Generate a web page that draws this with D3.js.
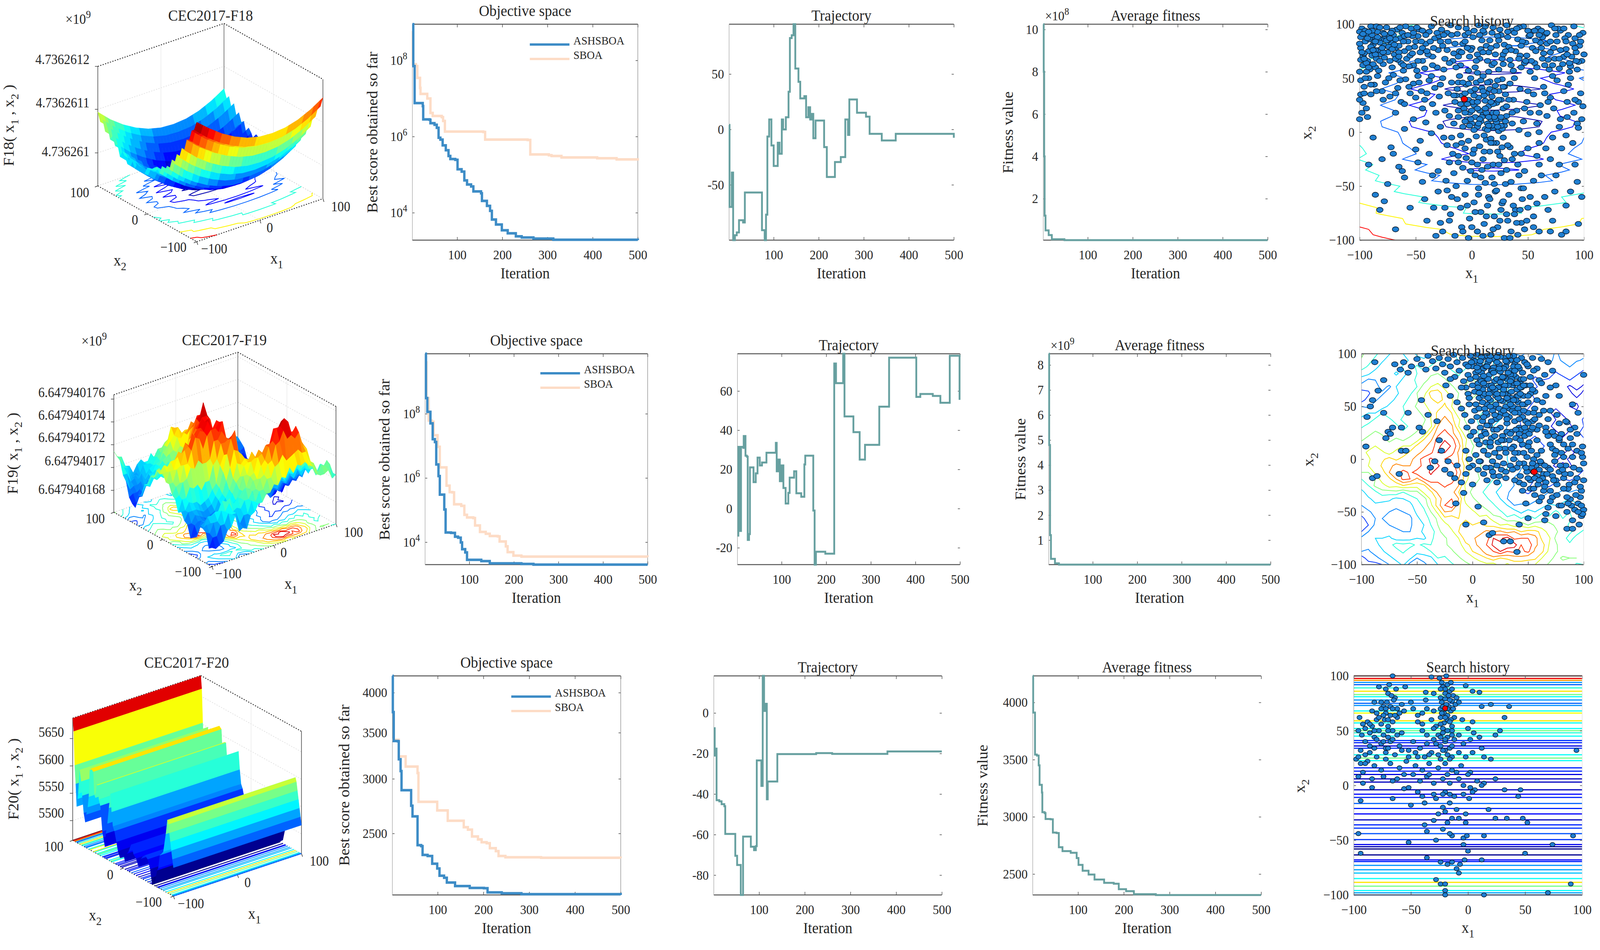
<!DOCTYPE html>
<html><head><meta charset="utf-8">
<script src="https://cdn.jsdelivr.net/npm/d3@7/dist/d3.min.js"></script>
<style>html,body{margin:0;background:#fff;overflow:hidden}svg{display:block;width:100vw;height:100vh}text{font-family:"Liberation Serif","Times New Roman",serif;fill:#262626}</style>
</head><body><script>
// ---------- convergence curves: iteration, value ----------
const best18AIter=[1,3,6,19,24,25,39,41,50,55,59,63,68,75,81,85,96,101,110,116,122,131,136,153,155,166,173,177,186,199,212,230,243,269,313,500];
const best18A=[8.95,7.85,6.88,6.88,6.8,6.45,6.44,6.35,6.31,6.23,5.97,5.92,5.77,5.64,5.49,5.41,5.39,5.14,5.08,4.85,4.74,4.69,4.56,4.51,4.31,4.18,4.05,3.82,3.69,3.54,3.46,3.38,3.35,3.32,3.29,3.28];
const best18BIter=[1,2,9,12,18,19,31,34,39,41,46,66,69,73,158,162,256,262,303,309,331,410,453,500];
const best18B=[8.77,7.9,7.85,7.54,7.28,7.12,7.12,7,7,6.62,6.54,6.51,6.41,6.13,6.12,5.92,5.91,5.53,5.51,5.49,5.45,5.43,5.4,5.37];
const traj18Iter=[1,2,7,10,14,18,23,32,36,71,74,80,83,86,90,95,100,106,109,113,118,121,127,133,136,140,144,148,155,159,168,172,177,181,184,188,193,210,212,218,232,236,246,249,256,259,265,268,282,285,300,305,313,340,371,496,500];
const traj18=[4,-70,-39,-100,-95.6,-93,-82,-84,-57,-57,-91,-100,-77,-6.5,9,-14.5,-33,-33,-12,-22,9,0,11,34,82.5,85,95,55,43,28,30,11,20,9,14,-8,8,8,-16,-43,-43,-29.5,-29.5,-25,-25,9,-5,27,27,15,15,11.5,-4,-10,-4,-4,-7.5];
const avg18Iter=[1,2,3,4,6,13,20,48,500];
const avg18=[10.25,8,4,1.2,0.5,0.28,0.08,0.04,0.04];

const best19AIter=[1,3,6,13,18,23,26,31,34,43,44,47,59,68,75,81,84,91,95,127,146,217,244,500];
const best19A=[9.87,8.49,8.06,7.7,7.21,7.12,6.42,6.06,5.48,5.48,5.02,4.3,4.29,4.17,4.14,3.99,3.78,3.68,3.45,3.41,3.34,3.32,3.3,3.3];
const best19BIter=[1,4,9,16,20,29,34,43,49,56,62,66,82,89,95,109,113,121,124,137,146,164,168,182,186,199,217,500];
const best19B=[9.6,8.49,7.79,7.75,7.33,6.97,6.33,6.33,5.76,5.56,5.55,5.18,5.13,4.85,4.77,4.75,4.52,4.52,4.32,4.26,4.19,4.18,4.02,3.87,3.69,3.58,3.55,3.54];
const traj19Iter=[1,3,6,9,14,15,19,22,24,27,29,35,37,42,46,51,56,65,66,84,87,89,93,96,100,104,109,115,118,124,128,133,144,151,153,168,171,174,177,195,198,217,218,222,235,238,241,259,261,270,275,284,287,318,319,340,341,399,402,411,437,439,453,456,475,477,498,499];
const traj19=[-13.8,31.5,-11.4,31.5,31,37,27,26.5,-16,-13,21,21,13.5,18,26,22,23.5,23.5,28.5,28.5,33.5,19,25,14,22,10.5,2.6,8,15.8,15.8,19,7.8,6,22.5,27,27,-1,-28.6,-22,-22,-23,-23,74,64,64,79,47,47,39,39,25,25,32.5,32.5,52,52,77,77,57,58.5,58.5,57.5,57.5,54,54,78,78,55.5];
const avg19Iter=[1,2,4,6,15,24,500];
const avg19=[8.45,4.8,1.2,0.25,0.07,0.02,0.02];

const best20AIter=[1,2,4,13,15,19,21,39,42,45,52,56,64,67,78,88,99,104,114,120,138,170,201,209,240,283,500];
const best20A=[4230,3748,3404,3400,3202,3079,2888,2888,2742,2647,2647,2404,2396,2327,2319,2260,2224,2171,2156,2122,2097,2084,2082,2053,2047,2041,2036];
const best20BIter=[1,13,15,29,30,54,56,58,97,99,120,122,153,157,166,175,188,196,207,214,227,233,248,326,500];
const best20B=[3417,3417,3233,3233,3125,3125,3059,2778,2778,2700,2700,2608,2608,2553,2532,2475,2451,2428,2420,2380,2357,2319,2309,2305,2302];
const traj20Iter=[1,3,4,7,13,18,24,26,46,48,52,58,60,64,65,78,82,89,93,95,102,105,108,111,113,117,119,137,140,220,225,255,260,376,381,500];
const traj20=[-7.5,-21,-17.6,-43,-43.6,-45,-46,-59.7,-59.7,-70.5,-75,-75,-89.8,-89.8,-61,-61,-66,-67.7,-65.7,-23.4,-23.4,-36,18.3,1,4.5,-42.6,-33.8,-33.8,-20.3,-20.3,-19.8,-19.8,-20.2,-20.2,-19,-19];
const avg20Iter=[1,2,6,10,14,16,21,22,27,29,40,45,53,58,66,84,97,101,110,123,136,157,178,189,205,222,270,500];
const avg20=[4232,3911,3544,3536,3450,3280,3212,3041,3032,2981,2978,2862,2858,2734,2700,2686,2640,2580,2529,2495,2452,2423,2415,2367,2350,2324,2316,2316];

// ---------- function landscapes ----------
// F18: rows x2 = 100..-100 step 5, columns x1 = -100..100 step 20
const f18Surface=[[189,159,135,116,102,94,92,95,104,119,139],[168,138,114,95,81,73,71,74,83,98,118],[176,146,122,103,89,81,79,82,91,106,126],[150,120,96,77,63,55,53,56,65,80,100],[165,135,111,92,78,70,68,71,80,95,115],[137,107,83,64,50,42,40,43,52,67,87],[149,119,95,76,62,54,52,55,64,79,99],[128,98,74,55,41,33,31,34,43,58,78],[134,104,80,61,47,39,37,40,49,64,84],[107,77,53,34,20,12,10,13,22,37,57],[124,94,70,51,37,29,27,30,39,54,74],[115,85,61,42,28,20,18,21,30,45,65],[99,69,45,26,12,4,2,5,14,29,49],[118,88,64,45,31,23,21,24,33,48,68],[114,84,60,41,27,19,17,20,29,44,64],[98,68,44,25,11,3,1,4,13,28,48],[113,83,59,40,26,18,16,19,28,43,63],[111,81,57,38,24,16,14,17,26,41,61],[98,68,44,25,11,3,1,4,13,28,48],[100,70,46,27,13,5,3,6,15,30,50],[117,87,63,44,30,22,20,23,32,47,67],[120,90,66,47,33,25,23,26,35,50,70],[122,92,68,49,35,27,25,28,37,52,72],[129,99,75,56,42,34,32,35,44,59,79],[134,104,80,61,47,39,37,40,49,64,84],[122,92,68,49,35,27,25,28,37,52,72],[143,113,89,70,56,48,46,49,58,73,93],[133,103,79,60,46,38,36,39,48,63,83],[151,121,97,78,64,56,54,57,66,81,101],[146,116,92,73,59,51,49,52,61,76,96],[174,144,120,101,87,79,77,80,89,104,124],[168,138,114,95,81,73,71,74,83,98,118],[195,165,141,122,108,100,98,101,110,125,145],[191,161,137,118,104,96,94,97,106,121,141],[218,188,164,145,131,123,121,124,133,148,168],[217,187,163,144,130,122,120,123,132,147,167],[247,217,193,174,160,152,150,153,162,177,197],[250,220,196,177,163,155,153,156,165,180,200],[277,247,223,204,190,182,180,183,192,207,227],[283,253,229,210,196,188,186,189,198,213,233],[306,279,255,236,222,214,212,215,224,239,259]];
const f18Levels=[15,40,70,125,195,265];
const f18ZTicks=[84.5,196,306], f18ZLabels=["4.736261","4.7362611","4.7362612"];
// F19: rows x2 = 100..-100 step 6.25, columns x1 = -100..100 step 6.25 (percent of z range)
const f19Surface=[
[52,46,45,36,35,28,34,37,33,29,35,37,36,37,31,38,33,32,26,33,27,28,26,27,25,26,27,32,24,30,29,30,28],
[49,47,38,36,28,30,28,36,36,36,34,42,40,40,33,40,34,35,28,34,26,27,22,24,22,24,23,30,22,28,26,27,25],
[47,40,38,28,30,28,36,36,44,36,44,44,46,38,40,40,42,34,36,34,32,24,26,18,24,18,24,23,24,20,26,20,22],
[36,36,28,30,28,36,30,38,42,48,48,50,44,46,40,48,42,42,36,42,32,30,24,24,18,20,18,24,16,22,18,20,14],
[32,24,26,26,34,28,36,38,44,46,54,52,52,44,46,46,52,42,44,42,40,30,30,22,22,16,18,16,18,12,18,12,14],
[20,22,22,30,24,34,34,40,42,54,58,64,54,52,44,52,50,50,42,48,38,36,28,28,20,20,14,16,10,14,8,14,8],
[16,16,26,24,32,32,38,40,50,54,70,68,64,52,50,48,56,48,48,42,44,34,32,24,22,14,16,10,12,10,12,6,12],
[14,22,24,32,30,36,36,46,48,60,64,70,64,60,48,50,48,48,42,44,36,36,26,26,18,18,10,14,12,12,10,12,10],
[26,24,32,30,36,34,42,44,52,54,64,62,68,58,54,44,50,42,44,36,38,28,28,20,20,12,14,12,12,10,10,8,16],
[28,34,34,42,36,38,40,48,46,54,58,68,70,66,52,50,44,44,38,38,32,30,22,22,14,14,12,12,6,12,10,12,14],
[38,36,44,42,44,38,44,42,50,48,58,68,78,68,60,48,46,40,40,34,34,24,24,16,16,10,12,10,10,6,12,10,20],
[40,46,44,50,42,44,38,44,44,52,56,74,78,76,58,54,42,42,34,34,28,26,18,18,12,18,10,12,6,8,8,16,18],
[48,46,52,48,48,42,44,44,52,52,68,78,86,76,68,52,48,40,40,32,32,22,20,12,14,14,16,10,12,6,12,14,24],
[48,54,52,54,46,52,48,54,54,66,72,86,88,86,72,60,46,46,36,36,28,28,18,18,16,22,14,16,10,12,10,16,16],
[56,54,58,52,56,52,58,58,68,70,80,84,100,88,78,58,52,42,42,34,36,26,24,16,24,22,20,14,16,10,12,10,16],
[54,60,58,60,54,62,60,68,70,78,80,90,90,86,72,62,48,48,40,40,34,34,24,24,18,22,16,16,10,12,6,12,10],
[56,56,64,64,70,64,70,70,80,84,92,84,82,76,74,58,54,46,46,38,40,34,30,22,24,16,18,10,12,6,12,10,16],
[50,58,58,68,70,78,74,74,76,86,90,92,82,88,74,64,52,52,44,44,36,36,28,28,20,22,12,14,8,14,8,16,14],
[50,50,60,62,74,76,86,80,86,84,92,84,84,88,80,60,56,48,48,40,38,30,32,24,22,16,16,10,16,10,16,14,20],
[42,48,50,64,64,74,84,82,72,82,86,86,82,90,74,62,50,50,42,42,32,32,24,26,18,18,12,16,14,18,16,20,18],
[40,42,52,54,62,60,66,62,62,64,78,78,84,78,74,56,52,44,44,36,36,26,26,20,20,14,20,16,22,20,24,22,24],
[30,40,40,48,46,48,42,48,48,60,64,76,76,78,66,58,46,46,38,38,28,28,20,20,16,22,20,26,24,28,26,28,24],
[32,32,38,36,36,32,34,36,42,46,60,68,80,82,74,54,52,44,44,36,34,26,24,18,24,22,28,26,32,28,34,28,32],
[26,32,32,32,30,28,30,32,38,44,56,70,82,88,68,60,52,52,44,44,34,34,26,28,26,32,30,36,34,38,34,36,30],
[24,24,30,28,26,24,26,28,36,40,50,60,74,72,68,58,60,54,54,46,44,36,38,32,38,34,40,38,44,38,42,36,36],
[14,24,26,26,24,22,24,24,32,38,44,52,64,62,66,64,64,60,62,54,52,44,48,42,46,42,48,44,48,42,44,38,38],
[16,18,28,26,26,24,22,24,32,34,42,50,54,62,64,72,66,70,64,64,58,60,54,56,50,56,52,54,48,48,40,40,36],
[18,26,28,32,30,28,26,26,30,36,38,46,56,56,66,68,74,70,76,74,76,70,74,66,70,68,64,54,52,44,44,38,44],
[28,26,34,34,36,30,30,30,34,32,40,46,48,56,58,70,72,78,78,90,88,94,80,82,82,78,64,60,48,46,38,46,44],
[28,30,30,38,38,46,44,46,40,44,42,50,48,54,54,64,68,78,82,92,92,98,94,82,88,76,70,58,52,42,44,44,50],
[26,24,32,32,40,38,44,36,38,36,42,42,48,48,56,58,66,68,80,82,90,82,84,80,84,72,68,56,52,44,48,48,48],
[14,22,22,30,30,38,36,36,26,32,32,42,40,48,48,56,56,64,66,72,66,68,70,72,68,68,58,56,46,52,50,50,42],
[16,14,16,18,26,28,36,22,24,22,32,34,40,40,46,46,52,50,56,54,62,56,62,60,62,58,56,48,46,46,48,40,42]];
const f19Levels=[10,18,26,34,42,50,58,66,74,82,90];
const f19ZTicks=[18.7,38.1,57.5,76.9,96.3], f19ZLabels=["6.647940168","6.64794017","6.647940172","6.647940174","6.647940176"];
// F20: profile along x2, nearly constant along x1
const f20X2=[100,98,96,94,92,90,89,86,83,81,78,75,73,70,68,66,63,59,57,55,52,50,48,45,41,39,36,34,31,28,25,22.6,20,17,13,10,6,3,-1,-4,-8,-11,-16,-21,-26,-31,-36,-39,-44,-49,-54,-56,-58,-63,-68,-70,-73,-77,-80,-85,-88,-90,-92,-94,-96,-98,-100];
const f20Z=[5687,5664,5603,5570,5530,5545,5555,5600,5580,5555,5525,5510,5525,5540,5560,5610,5614,5610,5570,5565,5590,5590,5565,5555,5510,5500,5485,5510,5530,5560,5587,5555,5530,5523,5505,5490,5480,5482,5490,5478,5495,5500,5515,5500,5495,5482,5500,5505,5510,5505,5490,5475,5465,5470,5495,5500,5525,5530,5535,5570,5597,5590,5575,5560,5545,5530,5516];
const f20LineX2=[100,97.7,96,94,92,89,86,83,81,78,75,73,68,66,59,57,52,50,48,45,41,39,36,34,28,25,22.6,16,13,10,6,3,-4,-8,-11,-16.5,-21,-26,-31.5,-36,-39,-44,-49.5,-54,-56,-58,-63.5,-68,-69.5,-73,-77,-80,-85,-88.5,-92,-96,-98,-100];
const f20LineZ=[5687,5660,5625,5525,5515,5555,5610,5575,5550,5525,5515,5525,5550,5600,5610,5550,5550,5575,5555,5550,5505,5500,5485,5505,5550,5575,5550,5500,5500,5485,5480,5480,5480,5495,5500,5515,5500,5495,5480,5500,5505,5510,5505,5490,5475,5465,5470,5495,5500,5525,5530,5535,5550,5610,5575,5550,5530,5516];
const f20ZTicks=[5500,5550,5600,5650], f20ZLabels=["5500","5550","5600","5650"];
// ---------- search history: x1,x2 pairs ----------
const history18=[-98,96,-94,91,-90,98,-87,88,-95,84,-99,78,-92,75,-88,81,-84,93,-80,86,-76,97,-83,76,-78,80,-97,70,-93,66,-89,71,-85,68,-81,72,-75,74,-72,83,-70,90,-67,95,-64,87,-68,78,-73,66,-79,63,-86,60,-91,58,-97,62,-99,88,-96,73,-91,86,-86,76,-82,83,-77,89,-74,79,-69,72,-65,80,-62,92,-60,75,-57,84,-54,96,-58,68,-63,64,-55,71,-51,79,-48,89,-46,74,-52,62,-44,66,-41,82,-38,93,-42,59,-94,56,-88,63,-83,57,-78,69,-71,60,-66,67,-61,57,-56,61,-49,57,-99,67,-100,93,-95,94,-89,90,-85,98,-79,92,-75,85,-71,77,-83,87,-87,84,-90,79,-94,64,-98,74,-36,98,-33,87,-30,76,-27,95,-24,68,-21,84,-19,99,-16,73,-13,91,-10,62,-8,82,-5,96,-2,70,1,88,3,60,6,99,8,77,11,92,14,66,16,85,19,97,21,72,24,58,26,90,29,81,31,99,34,67,36,94,39,75,41,86,44,60,46,98,49,71,51,89,54,78,56,64,59,96,61,83,64,73,66,91,69,58,71,99,74,68,76,84,79,94,81,63,84,77,86,90,89,70,91,98,94,58,96,80,99,92,98,66,-31,60,-25,58,-17,66,-11,75,-3,57,7,68,13,80,18,62,28,63,33,79,43,71,48,83,53,93,58,60,63,88,68,67,73,78,78,59,83,87,88,61,93,74,97,84,-35,70,-29,89,-22,92,-14,60,-6,90,0,78,5,55,10,94,15,56,23,89,27,68,32,93,37,57,42,97,47,64,52,56,57,85,62,94,67,82,72,62,77,96,82,70,87,56,92,87,95,65,100,72,-99,48,-96,42,-92,50,-90,35,-87,44,-84,52,-80,38,-77,46,-73,33,-70,53,-66,41,-63,28,-59,49,-55,36,-52,45,-99,35,-97,27,-94,22,-98,18,-48,52,-45,38,-42,30,-38,48,-35,26,-33,41,-29,33,-26,50,-24,20,-21,36,-18,46,-15,28,-13,40,-11,52,-9,34,-7,22,-5,44,-3,30,-1,50,1,38,2,25,4,46,6,32,7,20,9,41,10,52,12,29,13,36,15,24,16,47,18,33,19,18,21,43,22,27,24,38,25,12,27,49,28,22,30,35,31,15,-4,12,-2,18,0,8,3,14,5,5,8,10,10,16,12,3,14,8,17,12,19,4,22,9,24,1,26,14,29,6,-8,5,-12,14,-16,8,-20,15,34,45,37,30,40,20,43,40,46,10,49,28,52,18,55,35,58,8,61,25,64,42,67,15,70,32,73,22,76,48,79,12,82,38,85,28,88,50,91,18,94,8,97,36,99,24,36,8,42,2,50,-2,60,0,72,-5,84,-3,95,4,-25,-5,-28,5,-36,-1,-41,9,-46,-8,-52,12,-60,3,-68,18,-72,-14,-18,-5,-14,-12,-10,-3,-6,-15,-3,-8,1,-20,4,-4,7,-13,10,-25,13,-7,16,-18,19,-30,22,-10,25,-22,28,-5,31,-35,34,-14,-20,-28,-16,-38,-12,-22,-8,-33,-4,-45,0,-28,3,-40,6,-52,9,-35,12,-47,15,-60,18,-42,21,-55,24,-30,27,-66,30,-48,33,-58,36,-25,39,-72,42,-40,45,-62,-18,-60,-14,-50,-10,-70,-6,-58,-2,-80,2,-65,5,-92,8,-74,11,-85,14,-68,17,-95,20,-78,23,-88,26,-72,29,-98,32,-82,35,-92,38,-76,41,-95,44,-84,47,-90,50,-70,-26,-92,-20,-82,-15,-96,-9,-88,-3,-98,-23,-45,-30,-55,-35,-40,-42,-62,-48,-28,-55,-70,-62,-36,-68,-90,-75,-48,-82,-72,-60,-42,-65,-32,70,-25,75,-40,80,-15,88,-55,92,-30,98,-60,55,-45,60,-30,65,-60,72,-82,80,-95,95,-85,55,-78,60,-10,44,-20,50,-15,58,-22,
-97,91,-93,87,-89,94,-86,72,-82,97,-79,74,-74,90,-71,94,-68,86,-65,74,-61,84,-59,98,-53,89,-50,84,-47,95,-44,78,-41,90,-39,72,-37,84,-34,78,-31,92,-28,84,-25,90,-22,76,-18,90,-15,82,-12,97,-9,74,-6,84,-3,92,-1,76,2,94,5,72,9,85,12,98,15,74,18,92,22,80,25,95,28,72,32,88,35,76,38,92,42,68,45,84,50,94,53,66,57,75,60,90,63,68,67,92,70,74,75,90,78,68,82,96,85,72,90,82,93,66,-3,45,-1,38,1,28,3,40,5,22,8,48,11,34,13,18,16,40,19,26,21,12,23,48,26,30,29,42,31,24,-12,46,-14,34,-10,26,-6,18,-6,36,0,20,9,14,14,2,17,-6,20,14,27,3,33,30,36,18,
-92,93,-88,76,-84,88,-80,78,-76,85,-72,92,-68,68,-64,97,-60,89,-56,78,-52,92,-48,66,-44,94,-40,75,-100,82,-96,68,-92,60,-86,84,-82,66,-78,91,-73,87,-69,81,-65,70,-61,62,-57,90,-53,73,-49,97,-45,84,-35,62,-26,80,-20,64,-12,70,-4,78,4,66,7,90,10,74,17,78,20,64,24,85,30,75,35,62,40,96,44,80,48,66,52,90,56,94,62,78,65,62,70,84,74,96,79,76,84,84,87,64,92,78,96,90,-100,56,-95,50,-90,44,-85,38,-79,30,-74,50,-68,36,-64,48,-60,26,-56,42,-50,32,-47,46,-44,22,-40,36,-36,52,-32,18,-28,44,-100,30,-96,36,-93,14,-100,12,72,52,86,44,95,28,65,36,56,50,50,38,47,22,38,50,60,18,68,28,78,5,85,14,92,30,98,12,-16,34,-12,20,-8,46,-4,26,-1,12,2,34,5,28,7,12,10,38,12,22,14,46,15,14,17,28,18,6,20,38,22,18,24,30,26,6,28,42,30,10,-6,10,-2,6,2,2,6,8,11,-3,15,6,19,-10,23,5,27,-14,-22,-12,-17,-20,-12,-28,-9,-10,-5,-24,-1,-36,2,-16,5,-30,8,-42,11,-18,14,-32,17,-10,20,-48,23,-18,26,-38,29,-26,32,-12,35,-46,38,-20,41,-30,44,-52,47,-36,-24,-70,-19,-76,-13,-62,-8,-92,-4,-68,0,-88,3,-74,6,-58,10,-96,13,-78,16,-62,19,-90,22,-54,25,-82,28,-64,31,-76,34,-98,37,-68,40,-84,43,-72,46,-52,49,-82,52,-60,55,-88,58,-66,-30,-36,-34,-70,-38,-20,-44,-46,-50,-16,-22,-54,-28,-84,-32,-96,-40,-82,62,-40,66,-15,68,-72,74,-55,78,-30,84,-68,90,-10,94,-46,60,-92,70,-92,84,-92,-86,-58,-78,-64,-70,-20,-92,-30,-88,-5,-80,-25];
const history19=[-88,92,-70,90,-65,85,-62,92,-58,82,-55,88,-50,95,-46,90,-42,85,-40,98,-36,93,-33,86,-30,96,-27,90,-25,82,-22,95,-20,88,-17,99,-14,92,-12,84,-9,96,-6,90,-4,80,-2,98,0,88,1,94,3,82,4,99,6,90,7,76,9,96,10,86,11,70,13,98,14,92,15,80,16,66,18,95,19,87,20,74,21,60,23,99,24,90,25,83,26,69,27,55,29,96,30,88,31,76,32,62,33,48,34,94,35,84,36,70,37,98,38,90,39,78,40,66,41,54,42,86,43,74,44,96,45,82,46,60,47,92,48,70,50,88,52,78,54,96,56,64,58,86,60,75,62,95,65,80,68,92,72,84,75,70,78,60,100,80,-8,74,-6,68,-4,62,-2,76,0,70,2,64,3,78,5,72,6,58,8,82,9,66,10,60,12,76,13,52,15,70,16,56,17,84,19,64,20,50,22,76,23,68,25,56,26,44,28,78,29,62,30,50,32,70,33,40,35,58,36,46,37,80,38,36,40,60,41,48,42,30,44,68,45,40,47,52,48,26,50,44,52,62,54,36,56,48,58,28,60,42,63,54,66,30,70,46,74,22,78,34,82,14,-20,60,-14,54,-10,48,-7,42,-3,52,-1,36,2,46,4,40,7,30,9,36,11,26,13,42,15,32,17,20,19,28,21,38,23,16,25,30,27,22,29,10,31,34,33,18,35,26,37,12,39,20,41,6,43,28,45,14,47,22,49,2,51,16,53,8,-5,30,-2,22,1,26,4,18,6,14,8,22,10,8,12,16,14,4,16,12,18,-2,20,6,22,-6,24,2,26,-10,28,-4,30,-12,-6,8,-3,0,0,-6,3,4,5,-10,7,-2,10,-14,13,-20,16,-8,19,-16,22,-22,34,-6,37,0,40,-8,43,-16,46,-4,49,-12,52,-20,55,-12,57,-6,58,-16,60,-10,53,-8,56,-18,59,-24,62,-4,64,-14,66,-22,68,-8,70,-30,72,-16,74,-2,76,-24,78,-12,80,6,82,-18,84,-6,86,-28,88,-14,90,2,92,-22,94,8,96,-10,98,-30,100,-4,100,-20,99,12,97,-36,95,-42,92,-48,88,-38,85,-50,82,-28,78,-44,75,-54,72,-36,68,-46,64,-30,60,-40,56,-34,52,-28,48,-42,45,-30,42,-22,100,-48,98,-54,96,-62,90,-58,98,-44,80,-44,65,-58,85,-66,50,-56,75,-20,88,20,92,30,85,35,78,18,72,10,68,22,95,44,90,52,-46,56,-40,42,-32,36,-30,18,-28,8,-25,-10,-22,-2,-20,-14,-16,-18,-14,-6,-10,-22,-6,-14,-3,-8,0,-24,-90,-18,-86,-16,-66,-14,-64,8,-60,8,-78,20,-76,26,-72,30,-74,24,-96,12,-90,56,-85,65,-80,75,-64,30,-58,44,-48,30,-45,26,-38,-8,-34,-2,-8,-32,-15,-42,5,-45,-6,-62,10,-60,15,-72,18,-70,28,-78,34,-78,40,-88,42,-62,-95,40,-80,44,-92,50,
2,93,5,84,8,97,12,88,15,94,18,84,22,92,25,97,28,86,31,92,34,80,37,88,40,94,5,68,8,74,11,62,14,76,17,70,20,66,23,58,26,76,29,70,32,82,35,64,38,72,41,60,44,76,3,52,6,48,9,54,12,44,15,62,18,46,21,52,24,40,27,62,30,42,33,56,36,50,39,56,42,44,45,52,48,36,50,54,53,28,56,38,-3,58,-10,68,-16,78,-24,70,-20,76,10,40,13,32,17,36,20,22,24,10,28,18,31,26,35,10,39,28,43,18,47,30,51,24,55,0,58,4,61,-2,63,-18,65,-6,67,-14,70,-10,73,-20,75,8,79,-6,83,-14,87,-24,91,-8,94,-18,97,-26,99,2,
-4,88,-1,92,4,87,7,93,10,79,13,88,16,98,19,82,22,97,24,86,27,78,30,93,33,98,35,76,38,84,41,88,43,68,46,76,49,90,52,70,55,84,6,63,10,72,14,58,18,68,22,62,25,73,28,66,31,58,34,74,37,56,40,72,43,62,46,70,50,60,54,66,58,56,62,72,66,60,70,68,11,48,16,50,20,42,24,48,28,46,31,38,34,52,38,44,42,38,46,46,50,34,55,44,60,32,64,46,68,38,72,26,76,42,80,24,84,36,88,28,12,24,16,16,22,28,26,18,30,6,34,24,38,6,42,24,46,6,50,12,54,30,58,18,62,8,66,26,70,14,74,4,78,20,82,2,86,10,90,14,94,24,98,6,6,-2,12,-8,18,-12,24,-16,30,-18,36,-10,42,-4,48,-8,50,-18,54,-4,60,-20,65,-26,70,-40,76,-34,81,-10,85,-36,89,-44,93,-34,99,-52,62,-36,66,-52,55,-28,46,-24,38,-20,90,-66,95,-50,86,-42];
const history20=[-66,100,-32,99,-25,98,-19,100,-69,92,-63,88,-55,90,-37,85,-22,90,-18,92,-15,94,-2,91,-70,84,-64,80,-30,84,-24,80,-20,84,-16,86,-13,82,-10,80,4,86,10,85,-74,72,-71,76,-68,72,-65,78,-62,70,-58,74,-50,76,-37,78,-23,76,-20,79,-17,72,-14,77,-11,74,-8,76,12,72,20,74,36,72,-84,68,-80,66,-76,70,-72,66,-68,64,-60,66,-56,68,-48,70,-44,64,-40,66,-36,70,-30,68,-24,70,-21,66,-18,64,-15,68,-12,62,-95,62,-92,56,-88,58,-84,54,-80,60,-76,56,-73,60,-70,54,-66,58,-62,62,-44,58,-40,56,-32,60,-28,54,-24,62,-21,57,-18,60,-14,54,-5,60,4,58,32,62,-96,50,-93,46,-90,52,-86,48,-82,44,-78,50,-74,46,-70,44,-66,50,-62,46,-58,48,-40,50,-36,46,-30,52,-26,46,-22,48,-18,44,-14,50,-8,46,0,52,5,48,10,44,24,46,28,50,-90,40,-86,36,-80,42,-76,38,-72,34,-68,40,-60,36,-48,40,-42,34,-36,38,-30,42,-24,36,-20,40,-16,34,-12,42,-4,38,2,42,12,34,-94,32,-90,28,-86,30,-80,26,-72,30,-64,28,-58,32,-52,26,-46,30,-38,26,-32,30,-26,28,-20,32,-14,26,-8,30,-2,26,4,30,14,26,20,24,95,32,-98,24,-94,20,-88,22,-82,18,-76,14,-68,20,-60,16,-54,22,-46,18,-40,14,-34,20,-26,16,-20,20,-14,14,-6,18,2,12,-96,8,-92,12,-84,6,-74,8,-62,6,-48,10,-42,4,-36,8,-30,2,-22,6,-16,2,-8,6,0,10,8,4,14,2,24,6,-56,-3,-52,-2,-44,-6,-40,-10,-30,-8,-20,-6,-12,-10,-4,-8,2,-2,6,-4,12,0,32,-4,46,-4,-94,-14,-66,-12,-50,-18,-38,-16,-28,-12,-22,-20,-16,-16,-10,-22,18,-22,44,-10,-26,-26,-20,-24,-8,-30,-2,-26,24,-30,-38,-36,-30,-32,-18,-34,-2,-34,34,-30,48,-30,52,-34,-96,-44,-36,-42,-28,-50,-22,-40,-14,-46,-4,-48,-1,-46,14,-46,92,-46,-52,-52,-4,-54,74,-54,0,-60,-94,-62,-36,-66,-24,-70,-18,-72,-14,-70,-10,-76,-8,-80,50,-62,-28,-86,-24,-90,-20,-90,-20,-96,90,-90,14,-100,-20,-100,70,-98,-3,-68,-7,-72,12,-68,
-78,90,-72,88,-67,82,-82,76,-76,76,-72,70,-66,70,-78,62,-74,64,-70,60,-64,64,-86,56,-82,50,-70,50,-66,42,-74,40,-70,34,-82,34,-23,94,-20,88,-17,82,-24,88,-14,88,-22,72,-19,74,-16,78,-13,70,-23,66,-18,70,-15,60,-20,62,-24,56,-16,58,-22,52,-18,50,-14,46,-24,44,-20,42,-28,38,-22,32,-18,28,-14,36,-34,28,-24,24,-16,24,-96,26,-90,20,-72,24,-52,32,-44,26,-92,2,-84,-2,-66,4,-56,10,-34,10,-18,10,-10,12,-4,0,1,-12,4,-6,-14,-30,-16,-44,-22,-8,-16,-8];
// ---------- helpers ----------
const svg=d3.select("body").append("svg").attr("viewBox","0 0 4400 2433").attr("preserveAspectRatio","none");
const TC="#555";
function jet(v,levels=64){v=Math.max(0,Math.min(1,v));v=Math.min(levels-1,Math.floor(v*levels))/(levels-1);
 const c=t=>Math.round(255*Math.max(0,Math.min(1,1.5-Math.abs(4*v-t))));return `rgb(${c(3)},${c(2)},${c(1)})`;}
function txt(x,y,s,o={}){const t=svg.append("text").attr("x",x).attr("y",y).attr("font-size",o.size||40).attr("text-anchor",o.anchor||"middle");
 if(o.rot)t.attr("transform",`rotate(${o.rot} ${x} ${y})`);if(o.dy)t.attr("dy",o.dy);(Array.isArray(s)?s:[s]).forEach(p=>rich(t,p,o.size||40));return t;}
let pend=0;function rich(t,p,size){if(typeof p==="string"){t.append("tspan").attr("dy",pend).text(p);pend=0;}
 else{const sub=p.sub!==undefined,d=sub?size*.3:-size*.42;t.append("tspan").attr("dy",d+pend).attr("font-size",size*.75).text(sub?p.sub:p.sup);pend=-d;}}
function axes(x,y,o){const b=y.range()[0],t=y.range()[1],l=x.range()[0],r=x.range()[1];
 const sty=g=>{g.select(".domain").remove();g.selectAll("line").attr("stroke",TC).attr("stroke-width",1.6);g.attr("font-size",34);};
 svg.append("g").attr("transform",`translate(0,${b})`).call(d3.axisBottom(x).tickValues(o.xt).tickFormat(o.xf||(d=>d)).tickSizeInner(-8).tickSizeOuter(0).tickPadding(25)).call(sty);
 svg.append("g").attr("transform",`translate(0,${t})`).call(d3.axisTop(x).tickValues(o.xt).tickFormat("").tickSizeInner(-8).tickSizeOuter(0)).call(sty);
 const ly=svg.append("g").attr("transform",`translate(${l},0)`).call(d3.axisLeft(y).tickValues(o.yt).tickFormat(o.log?"":(o.yf||(d=>d))).tickSizeInner(-6).tickSizeOuter(0).tickPadding(14)).call(sty);
 if(o.log)ly.selectAll(".tick text").each(function(d){const s=d3.select(this);s.text("10");s.append("tspan").attr("dy",-14).attr("font-size",25).text(Math.round(Math.log10(d)));});
 svg.append("g").attr("transform",`translate(${r},0)`).call(d3.axisRight(y).tickValues(o.yt).tickFormat("").tickSizeInner(-6).tickSizeOuter(0)).call(sty);
 const ln=(a,c,e,f,col,w)=>svg.append("line").attr("x1",a).attr("y1",c).attr("x2",e).attr("y2",f).attr("stroke",col).attr("stroke-width",w);
 ln(l,t,r,t,TC,2.6);ln(l,b,r,b,TC,2.6);ln(l,t,l,b,"#999",1.2);if(o.rightLine)ln(r,t,r,b,o.rightLine,1.2);}
function stair(x,y,iters,vals,col,w,map=v=>v){svg.append("path").datum(iters.map((d,i)=>[d,map(vals[i])])).attr("fill","none").attr("stroke",col).attr("stroke-width",w).attr("stroke-linejoin","miter")
 .attr("d",d3.line().x(d=>x(d[0])).y(d=>y(d[1])).curve(d3.curveStepAfter));}
const xTicks=[100,200,300,400,500];
const LINE="#67a0a0",BLUE="#3d8cc6",PEACH="#fddcc6";
function objective(L,R,T,B,dom,o){const x=d3.scaleLinear([1,500],[L,R]),y=d3.scaleLog(dom,[B,T]);
 axes(x,y,{xt:xTicks,yt:o.yt,log:o.log,rightLine:"#777"});
 stair(x,y,o.bIter,o.b,PEACH,6.5,o.map);stair(x,y,o.aIter,o.a,BLUE,6.5,o.map);
 txt((L+R)/2,T-9,"Objective space");txt((L+R)/2,B+98,"Iteration");
 txt(o.lx,o.ly,"Best score obtained so far",{rot:-90,dy:".32em"});
 [[0,BLUE,"ASHSBOA"],[37,PEACH,"SBOA"]].forEach(([d,c,s])=>{svg.append("line").attr("x1",L+o.lgx).attr("x2",L+o.lgx+109).attr("y1",T+o.lgy+d).attr("y2",T+o.lgy+d).attr("stroke",c).attr("stroke-width",6);
  txt(L+o.lgx+120,T+o.lgy+d,s,{size:30,anchor:"start",dy:".32em"});});}
function traj(L,R,T,B,dom,yt,iters,vals){const x=d3.scaleLinear([1,500],[L,R]),y=d3.scaleLinear(dom,[B,T]);
 axes(x,y,{xt:xTicks,yt:yt});stair(x,y,iters,vals,LINE,5);
 txt((L+R)/2,T-9,"Trajectory");txt((L+R)/2,B+98,"Iteration");}
function average(L,R,T,B,dom,yt,iters,vals,lx,ly,mult){const x=d3.scaleLinear([1,500],[L,R]),y=d3.scaleLinear(dom,[B,T]);
 axes(x,y,{xt:xTicks,yt:yt});stair(x,y,iters,vals,LINE,5);
 txt((L+R)/2,T-9,"Average fitness");txt((L+R)/2,B+98,"Iteration");
 txt(lx,ly,"Fitness value",{rot:-90,dy:".32em"});
 if(mult)txt(L+5,T-10,["×10",{sup:mult}],{size:34,anchor:"start"});}
// contour rings of a landscape matrix, split at the grid border, returned in (x1,x2)
function rings(mat,levels){const m=mat.length,n=mat[0].length,flat=[];for(let j=m-1;j>=0;j--)flat.push(...mat[j]);
 const cs=d3.contours().size([n,m]).thresholds(levels)(flat),out=[];
 cs.forEach(c=>c.coordinates.forEach(poly=>poly.forEach(ring=>{let run=[];
  const flush=()=>{if(run.length>1)out.push({v:c.value,pts:run});run=[];};
  ring.forEach(([px,py])=>{if(px<.5||px>n-.5||py<.5||py>m-.5)flush();else run.push([-100+(px-.5)*200/(n-1),-100+(py-.5)*200/(m-1)]);});flush();})));
 return out;}
function history(L,R,T,B,o){const x=d3.scaleLinear([-100,100],[L,R]),y=d3.scaleLinear([-100,100],[B,T]);
 const f=d=>String(d).replace("-","−");
 if(o.mat)rings(o.mat,o.levels).forEach(r=>svg.append("path").attr("fill","none").attr("stroke",jet(r.v/o.zmax)).attr("stroke-width",2)
   .attr("d",d3.line().x(d=>x(d[0])).y(d=>y(d[1]))(r.pts)));
 if(o.lines)o.lines.forEach((v,i)=>svg.append("line").attr("x1",L).attr("x2",R).attr("y1",y(v)).attr("y2",y(v)).attr("stroke",jet((o.linez[i]-5464)/223)).attr("stroke-width",3));
 axes(x,y,{xt:[-100,-50,0,50,100],yt:[-100,-50,0,50,100],xf:f,yf:f,rightLine:"#ddd"});
 for(let i=0;i<o.pts.length;i+=2)svg.append("ellipse").attr("cx",x(o.pts[i])).attr("cy",y(o.pts[i+1])).attr("rx",o.rx).attr("ry",o.ry).attr("fill","#1f7fd2").attr("stroke","#0b1f33").attr("stroke-width",1.6);
 svg.append("ellipse").attr("cx",x(o.best[0])).attr("cy",y(o.best[1])).attr("rx",o.rx).attr("ry",o.ry+1).attr("fill","#ff0000").attr("stroke","#111").attr("stroke-width",1.6);
 txt((L+R)/2,T-9,"Search history");txt((L+R)/2,B+97,["x",{sub:"1"}]);
 txt(o.lx,o.ly,["x",{sub:"2"}],{rot:-90,dy:".32em"});}
// oblique 3-D box
function box3D(o){const F=o.F,Rr=o.R,Lf=o.L,H=o.H;const z=d3.scaleLinear(o.zdom,[0,H]),u=d3.scaleLinear([-100,100],[0,1]);
 const P=(a,b,c)=>[F[0]+u(a)*(Rr[0]-F[0])+u(b)*(Lf[0]-F[0]),F[1]+u(a)*(Rr[1]-F[1])+u(b)*(Lf[1]-F[1])-z(c)];
 const lo=o.zdom[0],hi=o.zdom[1];
 const seg=(p,q,c,w,dash)=>{const s=svg.append("line").attr("x1",p[0]).attr("y1",p[1]).attr("x2",q[0]).attr("y2",q[1]).attr("stroke",c).attr("stroke-width",w);if(dash)s.attr("stroke-dasharray",dash);};
 o.zt.forEach(t=>{seg(P(-100,100,t),P(100,100,t),"#d4d4d4",1.3,"3 4");seg(P(100,100,t),P(100,-100,t),"#d4d4d4",1.3,"3 4");seg(P(-100,100,t),[P(-100,100,t)[0]-8,P(-100,100,t)[1]],"#444",1.5);});
 seg(P(0,100,lo),P(0,100,hi),"#e4e4e4",1.2);seg(P(100,0,lo),P(100,0,hi),"#e4e4e4",1.2);
 seg(P(-100,0,lo),P(100,0,lo),"#dcdcdc",1.2,"3 4");seg(P(0,-100,lo),P(0,100,lo),"#dcdcdc",1.2,"3 4");
 seg(P(-100,100,lo),P(100,100,lo),"#bbb",1.2,"3 4");seg(P(100,100,lo),P(100,-100,lo),"#bbb",1.2,"3 4");
 seg(P(100,100,lo),P(100,100,hi),"#777",2);seg(P(-100,100,lo),P(-100,100,hi),"#555",1.8);seg(P(100,-100,lo),P(100,-100,hi),"#555",1.8);
 seg(P(-100,100,hi),P(100,100,hi),"#222",2.2,"3 4");seg(P(100,100,hi),P(100,-100,hi),"#222",2.2,"3 4");
 seg(P(-100,100,lo),P(-100,-100,lo),"#222",2.2,"3 4");seg(P(-100,-100,lo),P(100,-100,lo),"#222",2.2,"3 4");
 [-100,0,100].forEach(t=>{const a=P(t,-100,lo),b=P(-100,t,lo);seg(a,[a[0]+3,a[1]+8],"#333",1.6);seg(b,[b[0]-8,b[1]+3],"#333",1.6);});
 if(o.mat)rings(o.mat,o.levels).forEach(r=>svg.append("path").attr("fill","none").attr("stroke",jet((r.v-lo)/(hi-lo))).attr("stroke-width",2)
   .attr("d",d3.line()(r.pts.map(d=>P(d[0],d[1],lo)))));
 if(o.lines)o.lines.forEach((v,i)=>seg(P(-100,v,lo),P(100,v,lo),jet((o.linez[i]-lo)/(hi-lo)),2.2));
 o.draw(P,(pts,col)=>svg.append("polygon").attr("points",pts.map(p=>p.join(",")).join(" ")).attr("fill",col).attr("stroke",col).attr("stroke-width",.7),(v)=>(v-lo)/(hi-lo));
 txt(o.title[0],o.title[1],o.titleText);
 txt(o.ylab[0],o.ylab[1],o.ylabText,{rot:-90,dy:".32em"});
 if(o.mult)txt(o.mult[0],o.mult[1],["×10",{sup:"9"}],{size:36,anchor:"start"});
 o.zt.forEach((t,i)=>txt(o.zx,o.zy[i],o.zl[i],{size:35,anchor:"end",dy:".32em"}));
 o.tl.forEach(([x,y,s])=>txt(x,y,s,{size:35,dy:".32em"}));
 txt(o.x2lab[0],o.x2lab[1],["x",{sub:"2"}]);txt(o.x1lab[0],o.x1lab[1],["x",{sub:"1"}]);}
function gridSurface(mat,sub,levels){return (P,poly,nv)=>{const m=mat.length,n=mat[0].length,xs=c=>-100+c*200/(n-1),ys=r=>100-r*200/(m-1);
 for(let r=0;r<m-1;r++)for(let c=n-2;c>=0;c--)for(let s=sub-1;s>=0;s--){
  const a0=s/sub,a1=(s+1)/sub,l=(row,t)=>mat[row][c]*(1-t)+mat[row][c+1]*t,xa=xs(c)+(xs(c+1)-xs(c))*a0,xb=xs(c)+(xs(c+1)-xs(c))*a1;
  const z=[l(r,a0),l(r,a1),l(r+1,a1),l(r+1,a0)];
  poly([P(xa,ys(r),z[0]),P(xb,ys(r),z[1]),P(xb,ys(r+1),z[2]),P(xa,ys(r+1),z[3])],jet(nv(d3.mean(z)),levels));}};}
function profileSurface(P,poly,nv){for(let i=0;i<f20X2.length-1;i++){const a=f20X2[i],b=f20X2[i+1],za=f20Z[i],zb=f20Z[i+1];
 poly([P(-100,a,za),P(100,a,za),P(100,b,zb),P(-100,b,zb)],jet(nv(Math.min(za,zb))));}}
// ---------- row 1 ----------
box3D({F:[541,619],R:[888,509],L:[269,476],H:306,zdom:[0,306],zt:f18ZTicks,zl:f18ZLabels,mat:f18Surface,levels:f18Levels,
 draw:gridSurface(f18Surface,4,24),title:[579,53],titleText:"CEC2017-F18",ylab:[38,321],ylabText:["F18( x",{sub:"1"}," , x",{sub:"2"}," )"],
 mult:[180,61],zx:246,zy:[385,275,164],tl:[[219,505,"100"],[371,575,"0"],[477,645,"−100"],[589,649,"−100"],[742,595,"0"],[937,541,"100"]],x2lab:[330,680],x1lab:[761,687]});
objective(1134,1754,62,615,[Math.pow(10,3.28),Math.pow(10,8.95)],{yt:[1e4,1e6,1e8],log:true,aIter:best18AIter,a:best18A,bIter:best18BIter,b:best18B,map:v=>Math.pow(10,v),lx:1038,ly:339,lgx:323,lgy:52});
traj(2005,2623,62,615,[-100,95],[-50,0,50],traj18Iter,traj18);
average(2869,3486,62,615,[0.04,10.25],[2,4,6,8,10],avg18Iter,avg18,2785,339,"8");
history(3739,4356,62,615,{mat:f18Surface,levels:f18Levels,zmax:306,pts:history18,best:[-6.7,30.6],lx:3618,ly:340,rx:9,ry:6.5});
// ---------- row 2 ----------
box3D({F:[583,1451],R:[924,1342],L:[313,1312],H:301,zdom:[0,100],zt:f19ZTicks,zl:f19ZLabels,mat:f19Surface,levels:f19Levels,
 draw:gridSurface(f19Surface,1,64),title:[617,896],titleText:"CEC2017-F19",ylab:[48,1161],ylabText:["F19( x",{sub:"1"}," , x",{sub:"2"}," )"],
 mult:[224,885],zx:289,zy:[1250,1192,1132,1075,1017],tl:[[262,1340,"100"],[413,1407,"0"],[517,1476,"−100"],[628,1481,"−100"],[780,1427,"0"],[972,1375,"100"]],x2lab:[373,1512],x1lab:[800,1520]});
objective(1169,1781,906,1446,[Math.pow(10,3.3),Math.pow(10,9.87)],{yt:[1e4,1e6,1e8],log:true,aIter:best19AIter,a:best19A,bIter:best19BIter,b:best19B,map:v=>Math.pow(10,v),lx:1071,ly:1177,lgx:317,lgy:50});
traj(2028,2640,906,1446,[-28.6,79],[-20,0,20,40,60],traj19Iter,traj19);
average(2884,3494,906,1446,[0.02,8.45],[1,2,3,4,5,6,7,8],avg19Iter,avg19,2820,1176,"9");
history(3744,4355,906,1446,{mat:f19Surface,levels:f19Levels,zmax:100,pts:history19,best:[55.5,-12],lx:3624,ly:1177,rx:9,ry:6.5});
// ---------- row 3 ----------
box3D({F:[477,2295],R:[829,2186],L:[200,2152],H:313,zdom:[5464,5687.5],zt:f20ZTicks,zl:f20ZLabels,lines:f20LineX2,linez:f20LineZ,
 draw:profileSurface,title:[513,1722],titleText:"CEC2017-F20",ylab:[50,1995],ylabText:["F20( x",{sub:"1"}," , x",{sub:"2"}," )"],
 zx:176,zy:[2094,2026,1957,1887],tl:[[148,2180,"100"],[303,2252,"0"],[409,2322,"−100"],[525,2326,"−100"],[681,2272,"0"],[878,2217,"100"]],x2lab:[262,2357],x1lab:[700,2365]});
objective(1079,1707,1731,2292,[2036,4230],{yt:[2500,3000,3500,4000],aIter:best20AIter,a:best20A,bIter:best20BIter,b:best20B,lx:960,ly:2011,lgx:327,lgy:53});
traj(1963,2590,1731,2292,[-89.8,18.3],[-80,-60,-40,-20,0],traj20Iter,traj20);
average(2840,3468,1731,2292,[2317,4232],[2500,3000,3500,4000],avg20Iter,avg20,2716,2012,null);
history(3723,4351,1731,2292,{lines:f20LineX2,linez:f20LineZ,pts:history20,best:[-20,70.4],lx:3600,ly:2013,rx:7,ry:5.5});
</script></body></html>
